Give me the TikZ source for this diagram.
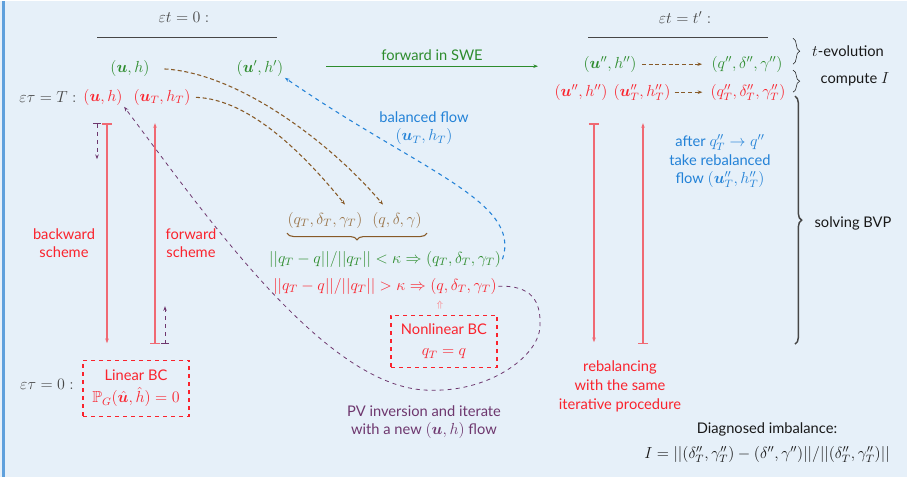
\documentclass[tikz,border=0pt]{standalone}
\usepackage{amsmath, amssymb, bm}
\usepackage{fontspec}
\setsansfont{Lato}
\DeclareMathSizes{11}{12}{8.5}{6.5}
\usetikzlibrary{arrows.meta, decorations.pathreplacing, calc}
\definecolor{bgblue}{RGB}{230,240,249}
\definecolor{frameblue}{RGB}{95,160,220}
\definecolor{myred}{RGB}{250,35,45}
\definecolor{linered}{RGB}{240,105,115}
\definecolor{mygreen}{RGB}{45,140,45}
\definecolor{myblue}{RGB}{35,130,215}
\definecolor{mybrown}{RGB}{135,90,40}
\definecolor{mypurple}{RGB}{110,55,110}
\definecolor{mygray}{RGB}{70,70,70}
\definecolor{mydark}{RGB}{25,25,25}

\begin{document}
\begin{tikzpicture}[x=0.75pt, y=-0.75pt, >={Stealth[length=3.5pt]},
  every node/.style={font=\fontsize{11}{14}\selectfont\sffamily, inner sep=1pt, align=center},
  dk/.style={text=mydark}, gr/.style={text=mygray},
  grn/.style={text=mygreen}, rd/.style={text=myred},
  blu/.style={text=myblue}, brn/.style={text=mybrown!85}, ppl/.style={text=mypurple},
  bcbox/.style={draw=myred, dashed, thick, text=myred, minimum width=106*0.75pt},
  brownarrow/.style={->, mybrown, densely dashed, thick},
  bluedash/.style={->, myblue, dashed, thick},
  purpledash/.style={->, mypurple, dashed, semithick},
  redline/.style={|->, linered, line width=1.2pt},
  rbrace/.style={decorate, decoration={brace, amplitude=5pt}, mydark}]
% background
\fill[bgblue] (0,0) rectangle (907,476);
\draw[frameblue, line width=1.8pt] (3.5,0) -- (3.5,476);

% epsilon t = 0
\node[gr] (tzero) at (184,16) {$\varepsilon t=0:$};
\draw[mygray, thick] (97,36) -- (277,36);
\node[grn] (uh0) at (130,67) {$(\bm{u},h)$};
\node[grn] (uhp) at (260,67) {$(\bm{u}',h')$};
\node[gr] (tauT) at (48,96) {$\varepsilon\tau=T:$};
\node[rd] (uhT) at (103,96) {$(\bm{u},h)$};
\node[rd] (uThT) at (162,96) {$(\bm{u}_T,h_T)$};

% forward in SWE
\coordinate (swe0) at (326,65);
\coordinate (swe1) at (538,65);
\draw[->, mygreen, thick] (swe0) -- node[above=3pt, grn]{forward in SWE} (swe1);

% epsilon t = t'
\node[gr] (tprime) at (685,16) {$\varepsilon t=t':$};
\draw[mygray, thick] (588,36) -- (768,36);
\node[grn] (uhpp) at (610,63) {$(\bm{u}'',h'')$};
\node[grn] (qpp) at (747,63) {$(q'',\delta'',\gamma'')$};
\node[rd] (uhppT) at (581,91) {$(\bm{u}'',h'')$};
\node[rd] (uTpp) at (642,91) {$(\bm{u}''_T,h''_T)$};
\node[rd] (qTpp) at (748,91) {$(q''_T,\delta''_T,\gamma''_T)$};
\draw[brownarrow, shorten <=3pt, shorten >=6pt] (uhpp.east) -- (qpp.west);
\draw[brownarrow, shorten <=2pt, shorten >=5pt] (uTpp.east) -- (qTpp.west);

% braces on the right
\node[dk] (tevol) at (848,50) {$t$-evolution};
\node[dk] (compI) at (855,78) {compute $I$};
\node[dk] (bvp) at (853,222) {solving BVP};
\draw[rbrace] (793,37) -- (793,63);
\draw[rbrace] (793,69) -- (793,91);
\draw[rbrace, mygray, line width=1.1pt] (795,95) -- (795,343);

% backward / forward schemes
\coordinate (bw0) at (107,122); \coordinate (bw1) at (107,342);
\coordinate (fw0) at (155,343); \coordinate (fw1) at (155,122);
\coordinate (pb0) at (97,122);  \coordinate (pb1) at (97,158);
\coordinate (pf0) at (165,343); \coordinate (pf1) at (165,305);
\draw[redline] (bw0) -- (bw1);
\draw[redline] (fw0) -- (fw1);
\draw[|->, mypurple, dashed, semithick] (pb0) -- (pb1);
\draw[|->, mypurple, dashed, semithick] (pf0) -- (pf1);
\node[rd] (bwlab) at (64,242) {backward\\scheme};
\node[rd] (fwlab) at (191,242) {forward\\scheme};

% linear BC
\node[gr] (tauzero) at (47,383) {$\varepsilon\tau=0:$};
\node[bcbox, minimum height=56*0.75pt] (linbc) at (136,387) {Linear BC\\[3pt]$\mathbb{P}_G(\hat{\bm{u}},\hat{h})=0$};

% PV conditions
\node[brn] (qT) at (325,219) {$(q_T,\delta_T,\gamma_T)$};
\node[brn] (q) at (397,219) {$(q,\delta,\gamma)$};
\draw[decorate, decoration={brace, amplitude=5pt, mirror}, mybrown, thick] (287,232) -- (427,232);
\node[grn] (condg) at (385,258) {$||q_T-q||/||q_T||<\kappa\Rightarrow(q_T,\delta_T,\gamma_T)$};
\node[rd] (condr) at (385,285) {$||q_T-q||/||q_T||>\kappa\Rightarrow(q,\delta_T,\gamma_T)$};
\node[text=myred!60, font=\scriptsize] (upar) at (440,304) {$\Uparrow$};
\node[bcbox, minimum height=52*0.75pt] (nonbc) at (444,340) {Nonlinear BC\\[2pt]$q_T=q$};

\draw[brownarrow, shorten <=10pt] (uh0.east) .. controls (240,72) and (333,144) .. ($(q.north)+(-14,-6)$);
\draw[brownarrow, shorten <=3pt] (uThT.east) .. controls (250,98) and (305,154) .. ($(qT.north)+(20,-6)$);

% balanced flow
\node[blu] (balflow) at (424,127) {balanced flow\\$(\bm{u}_T,h_T)$};
\draw[bluedash] (condg.east) .. controls (522,200) and (420,170) .. (uhp.south east);

% PV inversion loop
\node[ppl] (pvinv) at (424,421) {PV inversion and iterate\\with a new $(\bm{u},h)$ flow};
\draw[purpledash] (condr.east) .. controls (532,284) and (541,300) .. (540,325)
  .. controls (539,355) and (490,390) .. (433,389)
  .. controls (330,392) and (210,220) .. (uhT.south east);

% rebalancing
\coordinate (rb0) at (594,122); \coordinate (rb1) at (594,341);
\coordinate (rf0) at (643,343); \coordinate (rf1) at (643,122);
\draw[redline] (rb0) -- (rb1);
\draw[redline] (rf0) -- (rf1);
\node[blu] (rebal) at (720,160) {after $q''_T\to q''$\\take rebalanced\\flow $(\bm{u}''_T,h''_T)$};
\node[rd] (rebalab) at (620,385) {rebalancing\\with the same\\iterative procedure};

% imbalance
\node[dk] (diag) at (767,428) {Diagnosed imbalance:};
\node[dk] (imb) at (767,453) {$I=||(\delta''_T,\gamma''_T)-(\delta'',\gamma'')||/||(\delta''_T,\gamma''_T)||$};
\end{tikzpicture}
\end{document}
